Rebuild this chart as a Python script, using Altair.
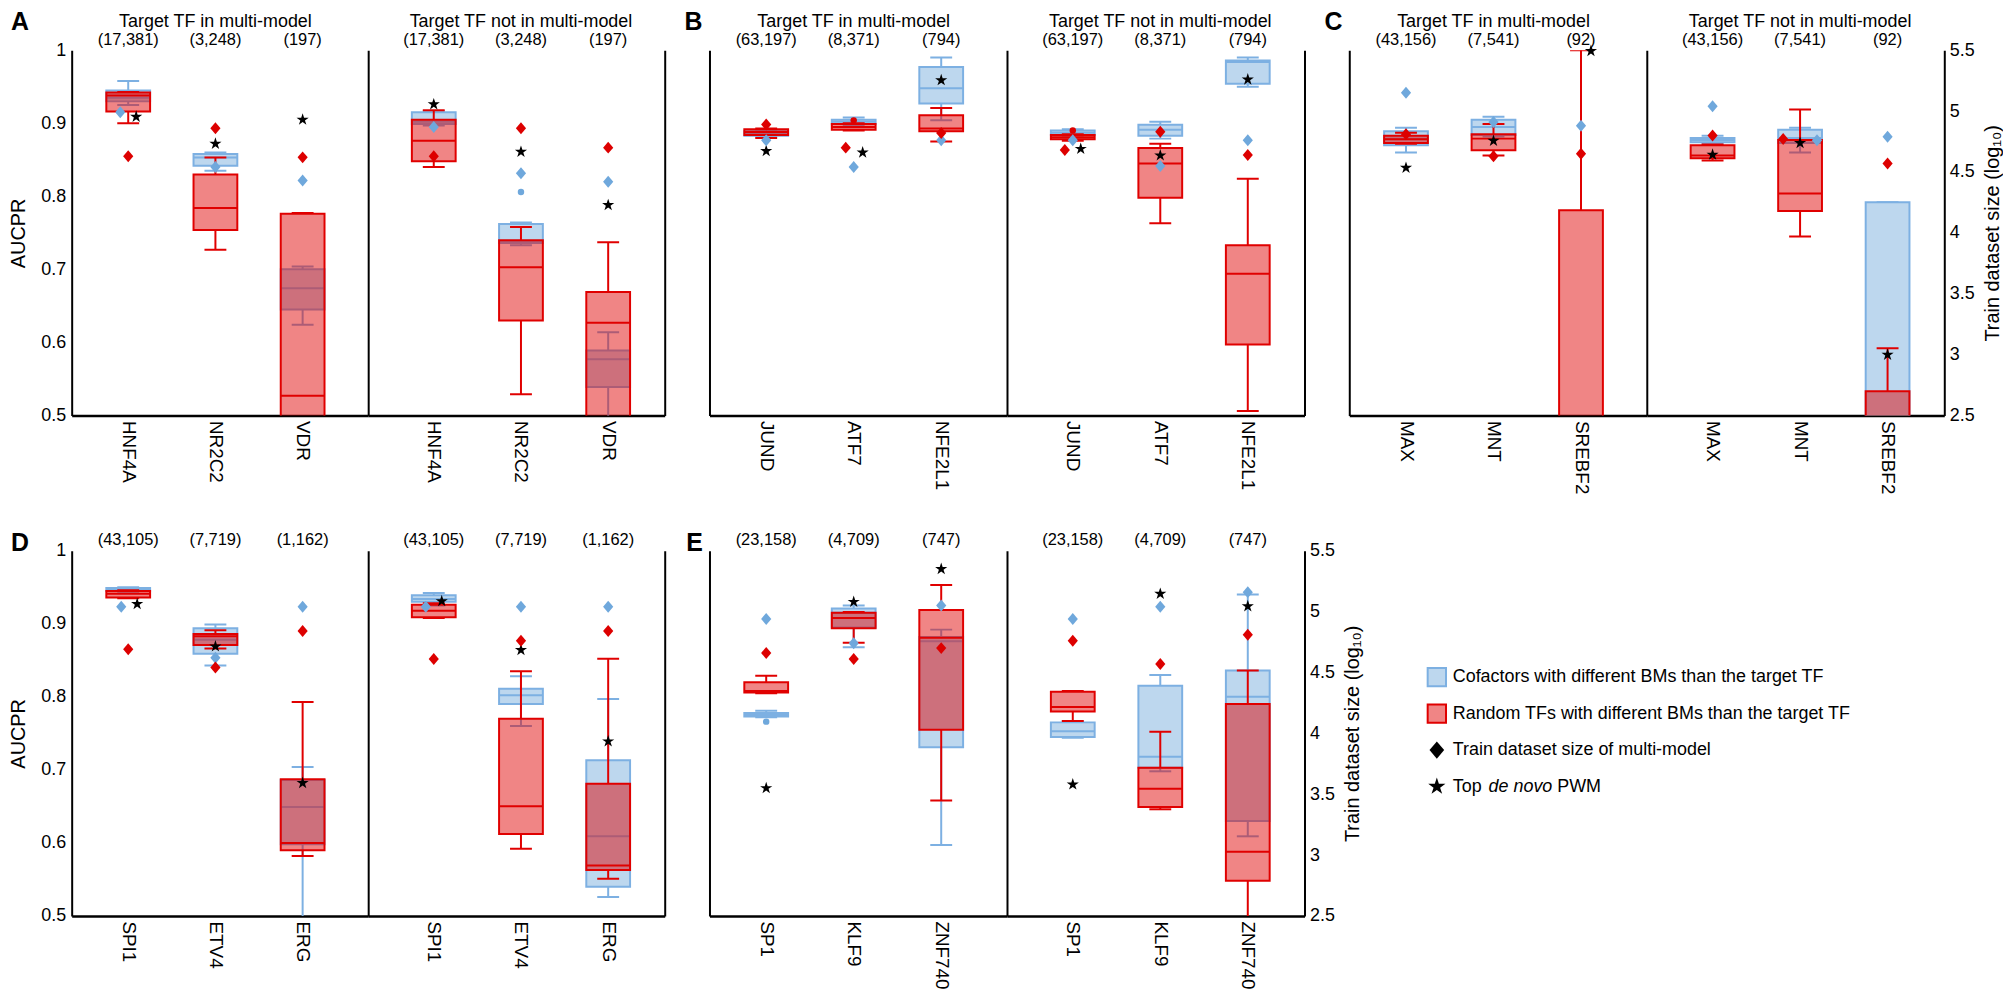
import altair as alt
import pandas as pd

FONT = "Liberation Sans"
BLUE_FILL = "#bdd7ee"
BLUE_LINE = "#7db0e2"
BLUE_MARK = "#6fa8dc"
RED = "#e00000"
RED_MARK = "#dd0000"

GROUP_TITLES = ["Target TF in multi-model", "Target TF not in multi-model"]

# ---------------- data (box stats: [whisker low, q1, median, q3, whisker high], AUCPR) ----------------
# Panel A
tf_A = ["HNF4A", "NR2C2", "VDR"]
n_A = ["(17,381)", "(3,248)", "(197)"]
cof_A_in = [[0.925, 0.930, 0.935, 0.945, 0.958], [0.835, 0.842, 0.853, 0.858, 0.860], [0.624, 0.645, 0.674, 0.700, 0.704]]
rnd_A_in = [[0.900, 0.916, 0.938, 0.942, 0.943], [0.727, 0.754, 0.784, 0.830, 0.853], [0.40, 0.45, 0.527, 0.776, 0.777]]
cof_A_out = [[0.897, 0.899, 0.902, 0.915, 0.917], [0.733, 0.736, 0.738, 0.762, 0.764], [0.45, 0.539, 0.577, 0.589, 0.614]]
rnd_A_out = [[0.840, 0.848, 0.876, 0.905, 0.918], [0.529, 0.630, 0.703, 0.740, 0.758], [0.45, 0.48, 0.627, 0.669, 0.737]]
size_cof_A_in = [4.99, 4.54, 4.43]
size_rnd_A_in = [4.63, 4.86, 4.62]
size_cof_A_out = [4.87, 4.49, 4.42]
size_rnd_A_out = [4.63, 4.86, 4.70]
pwm_A_in = [0.909, 0.872, 0.905]
pwm_A_out = [0.926, 0.861, 0.788]
outl_cof_A_out = [[], [0.806], []]

# Panel B
tf_B = ["JUND", "ATF7", "NFE2L1"]
n_B = ["(63,197)", "(8,371)", "(794)"]
cof_B_in = [[0.882, 0.883, 0.886, 0.889, 0.890], [0.897, 0.899, 0.902, 0.905, 0.908], [0.904, 0.927, 0.948, 0.977, 0.990]]
rnd_B_in = [[0.880, 0.884, 0.888, 0.892, 0.893], [0.890, 0.891, 0.895, 0.899, 0.900], [0.875, 0.889, 0.893, 0.911, 0.921]]
cof_B_out = [[0.883, 0.884, 0.887, 0.890, 0.892], [0.879, 0.883, 0.891, 0.898, 0.902], [0.950, 0.954, 0.984, 0.986, 0.990]]
rnd_B_out = [[0.876, 0.878, 0.881, 0.884, 0.885], [0.763, 0.798, 0.845, 0.866, 0.872], [0.506, 0.597, 0.694, 0.733, 0.824]]
size_cof_B_in = [4.76, 4.54, 4.76]
size_rnd_B_in = [4.89, 4.70, 4.82]
size_cof_B_out = [4.76, 4.55, 4.76]
size_rnd_B_out = [4.68, 4.83, 4.64]
pwm_B_in = [0.862, 0.860, 0.959]
pwm_B_out = [0.865, 0.856, 0.960]
outl_rnd_B_in = [[], [0.904], []]
outl_rnd_B_out = [[0.890], [], []]

# Panel C
tf_C = ["MAX", "MNT", "SREBF2"]
n_C = ["(43,156)", "(7,541)", "(92)"]
cof_C_in = [[0.860, 0.870, 0.879, 0.889, 0.894], [0.882, 0.884, 0.895, 0.905, 0.909], None]
rnd_C_in = [[0.872, 0.873, 0.878, 0.883, 0.887], [0.856, 0.863, 0.879, 0.885, 0.899], [0.40, 0.45, 0.48, 0.781, 1.0]]
cof_C_out = [[0.872, 0.874, 0.877, 0.880, 0.883], [0.860, 0.873, 0.880, 0.891, 0.894], [0.40, 0.45, 0.48, 0.792, 0.792]]
rnd_C_out = [[0.849, 0.852, 0.856, 0.870, 0.871], [0.745, 0.780, 0.804, 0.877, 0.919], [0.40, 0.45, 0.48, 0.533, 0.592]]
size_cof_C_in = [5.15, 4.91, 4.88]
size_rnd_C_in = [4.81, 4.63, 4.65]
size_cof_C_out = [5.04, 4.76, 4.79]
size_rnd_C_out = [4.80, 4.77, 4.57]
pwm_C_in = [0.839, 0.876, 0.999]
pwm_C_out = [0.857, 0.873, 0.583]

# Panel D
tf_D = ["SPI1", "ETV4", "ERG"]
n_D = ["(43,105)", "(7,719)", "(1,162)"]
cof_D_in = [[0.944, 0.945, 0.947, 0.949, 0.950], [0.843, 0.859, 0.878, 0.894, 0.899], [0.45, 0.598, 0.649, 0.686, 0.704]]
rnd_D_in = [[0.935, 0.936, 0.941, 0.945, 0.946], [0.866, 0.871, 0.883, 0.886, 0.891], [0.582, 0.590, 0.600, 0.687, 0.793]]
cof_D_out = [[0.925, 0.930, 0.934, 0.939, 0.942], [0.760, 0.790, 0.802, 0.811, 0.828], [0.526, 0.540, 0.609, 0.713, 0.797]]
rnd_D_out = [[0.908, 0.909, 0.918, 0.926, 0.928], [0.592, 0.612, 0.650, 0.770, 0.835], [0.551, 0.563, 0.569, 0.681, 0.852]]
size_cof_D_in = [5.04, 4.62, 5.04]
size_rnd_D_in = [4.69, 4.54, 4.84]
size_cof_D_out = [5.04, 5.04, 5.04]
size_rnd_D_out = [4.61, 4.76, 4.84]
pwm_D_in = [0.927, 0.869, 0.682]
pwm_D_out = [0.931, 0.864, 0.739]

# Panel E
tf_E = ["SP1", "KLF9", "ZNF740"]
n_E = ["(23,158)", "(4,709)", "(747)"]
cof_E_in = [[0.772, 0.773, 0.775, 0.778, 0.781], [0.868, 0.895, 0.915, 0.921, 0.925], [0.597, 0.731, 0.876, 0.882, 0.892]]
rnd_E_in = [[0.805, 0.806, 0.808, 0.820, 0.829], [0.874, 0.894, 0.908, 0.915, 0.916], [0.658, 0.755, 0.881, 0.919, 0.953]]
cof_E_out = [[0.744, 0.745, 0.753, 0.765, 0.767], [0.698, 0.703, 0.718, 0.815, 0.830], [0.609, 0.630, 0.800, 0.836, 0.940]]
rnd_E_out = [[0.767, 0.780, 0.786, 0.807, 0.808], [0.646, 0.649, 0.674, 0.703, 0.752], [0.45, 0.548, 0.588, 0.790, 0.836]]
size_cof_E_in = [4.94, 4.74, 5.05]
size_rnd_E_in = [4.66, 4.61, 4.70]
size_cof_E_out = [4.94, 5.04, 5.16]
size_rnd_E_out = [4.76, 4.57, 4.81]
pwm_E_in = [0.675, 0.930, 0.975]
pwm_E_out = [0.680, 0.941, 0.924]
outl_cof_E_in = [[0.766], [], []]

NO_OUT = [[], [], []]

LEGEND_TEXT = ["Cofactors with different BMs than the target TF",
               "Random TFs with different BMs than the target TF",
               "Train dataset size of multi-model"]

# ---------------- layout / style ----------------
H = 367
# small horizontal nudges (px) so overlapping markers sit side by side
DODGE = {
    ("A", 0, "HNF4A", "cof"): -8, ("A", 0, "HNF4A", "pwm"): 8,
    ("B", 0, "ATF7", "rnd"): -8, ("B", 0, "ATF7", "pwm"): 9,
    ("B", 1, "JUND", "rnd"): -8, ("B", 1, "JUND", "pwm"): 8,
    ("C", 0, "SREBF2", "pwm"): 10,
    ("C", 1, "MNT", "rnd"): -17, ("C", 1, "MNT", "cof"): 17,
    ("D", 0, "SPI1", "cof"): -7, ("D", 0, "SPI1", "pwm"): 9,
    ("D", 1, "SPI1", "cof"): -8, ("D", 1, "SPI1", "pwm"): 8,
}
STAR = ("M0,-1L0.225,-0.309L0.951,-0.309L0.363,0.118L0.588,0.809L0,0.382"
        "L-0.588,0.809L-0.363,0.118L-0.951,-0.309L-0.225,-0.309Z")
DIAMOND = "M0,-1L0.85,0L0,1L-0.85,0Z"
OFFSET_SCALE = alt.Scale(domain=[-20, 20], range=[-20, 20])


def stats_df(tfs, stats):
    rows = []
    for tf, s in zip(tfs, stats):
        if s is None:
            continue
        rows.append(dict(tf=tf, low=s[0], q1=s[1], med=s[2], q3=s[3], high=s[4]))
    return pd.DataFrame(rows)


def sub_chart(letter, gi, tfs, counts, grp, width, top_row, left_labels, right_labels, letter_x):
    cof, rnd, scof, srnd, pwm, ocof, ornd = grp
    align = 0.463 if gi == 0 else 0.537
    xscale = alt.Scale(type="point", domain=tfs, padding=0.7, align=align)
    xaxis = alt.Axis(title=None, labelAngle=90, labelFontSize=19, labelFont=FONT, labelColor="black",
                     ticks=False, domain=True, domainColor="black", domainWidth=2.5, labelPadding=5,
                     grid=False)
    X = alt.X("tf:N", scale=xscale, axis=xaxis)
    yscale = alt.Scale(domain=[0.5, 1.0], nice=False, zero=False)
    if gi == 0 and left_labels:
        yaxis = alt.Axis(title="AUCPR", values=[0.5, 0.6, 0.7, 0.8, 0.9, 1.0], format="~g",
                         labelFontSize=18, titleFontSize=20, ticks=False, domainColor="black",
                         domainWidth=2, labelPadding=6, titlePadding=12, grid=False,
                         titleFontWeight="normal")
    else:
        yaxis = alt.Axis(title=None, labels=False, ticks=False, domainColor="black", domainWidth=2,
                         grid=False)

    def Y(f):
        return alt.Y(f"{f}:Q", scale=yscale, axis=yaxis)

    layers = []
    for stats, fill, line, fop in ((cof, BLUE_FILL, BLUE_LINE, 1.0), (rnd, RED, RED, 0.48)):
        df = stats_df(tfs, stats)
        base = alt.Chart(df)
        layers += [
            base.mark_rule(color=line, strokeWidth=2, clip=True).encode(x=X, y=Y("q3"), y2="high:Q"),
            base.mark_rule(color=line, strokeWidth=2, clip=True).encode(x=X, y=Y("low"), y2="q1:Q"),
            base.mark_tick(color=line, size=22, thickness=2, clip=True, opacity=1).encode(x=X, y=Y("high")),
            base.mark_tick(color=line, size=22, thickness=2, clip=True, opacity=1).encode(x=X, y=Y("low")),
            base.mark_bar(size=44, fill=fill, fillOpacity=fop, stroke=line, strokeWidth=2,
                          clip=True).encode(x=X, y=Y("q1"), y2="q3:Q"),
            base.mark_tick(color=line, size=44, thickness=2, clip=True, opacity=1).encode(x=X, y=Y("med")),
        ]
    # outliers
    orows = []
    for tf, vals in zip(tfs, ocof):
        for v in vals:
            orows.append(dict(tf=tf, v=v, kind="cof"))
    for tf, vals in zip(tfs, ornd):
        for v in vals:
            orows.append(dict(tf=tf, v=v, kind="rnd"))
    if orows:
        layers.append(alt.Chart(pd.DataFrame(orows)).mark_circle(size=42, opacity=1).encode(
            x=X, y=Y("v"),
            color=alt.Color("kind:N", scale=alt.Scale(domain=["cof", "rnd"], range=[BLUE_MARK, RED_MARK]),
                            legend=None)))
    # stars (top de novo PWM)
    sdf = pd.DataFrame(dict(tf=tfs, pwm=pwm,
                            dx=[DODGE.get((letter, gi, t, "pwm"), 0) for t in tfs]))
    layers.append(alt.Chart(sdf).mark_point(shape=STAR, filled=True, color="black", size=165,
                                            opacity=1).encode(
        x=X, y=Y("pwm"), xOffset=alt.XOffset("dx:Q", scale=OFFSET_SCALE)))
    # counts
    cdf = pd.DataFrame(dict(tf=tfs, label=counts))
    layers.append(alt.Chart(cdf).mark_text(font=FONT, fontSize=16.5, baseline="alphabetic",
                                           color="black").encode(
        x=X, y=alt.value(-5 if top_row else -6), text="label:N"))
    if top_row:
        tdf = pd.DataFrame([dict(tf=tfs[1], label=GROUP_TITLES[gi])])
        layers.append(alt.Chart(tdf).mark_text(font=FONT, fontSize=18, baseline="alphabetic",
                                               color="black").encode(
            x=X, y=alt.value(-23), text="label:N"))
    if gi == 0:
        ldf = pd.DataFrame([dict(label=letter)])
        layers.append(alt.Chart(ldf).mark_text(font=FONT, fontSize=25, fontWeight="bold",
                                               baseline="alphabetic", align="center",
                                               color="black").encode(
            x=alt.value(letter_x), y=alt.value(-20 if top_row else 0), text="label:N"))

    inner = alt.layer(*layers)

    # diamonds: train dataset size on the log10 scale
    drows = []
    for t, v in zip(tfs, scof):
        drows.append(dict(tf=t, kind="cof", logsize=v, dx=DODGE.get((letter, gi, t, "cof"), 0)))
    for t, v in zip(tfs, srnd):
        drows.append(dict(tf=t, kind="rnd", logsize=v, dx=DODGE.get((letter, gi, t, "rnd"), 0)))
    sscale = alt.Scale(domain=[2.5, 5.5], nice=False, zero=False)
    if gi == 1:
        if right_labels:
            saxis = alt.Axis(orient="right", title="Train dataset size (log\u2081\u2080)",
                             values=[2.5, 3, 3.5, 4, 4.5, 5, 5.5], format="~g", labelFontSize=18,
                             titleFontSize=20, ticks=False, domainColor="black", domainWidth=2,
                             labelPadding=5, titlePadding=8, grid=False, titleAngle=270,
                             titleBaseline="top", titleFontWeight="normal")
        else:
            saxis = alt.Axis(orient="right", title=None, labels=False, ticks=False,
                             domainColor="black", domainWidth=2, grid=False)
    else:
        saxis = None
    dia = alt.Chart(pd.DataFrame(drows)).mark_point(shape=DIAMOND, filled=True, size=145,
                                                    opacity=1).encode(
        x=X,
        y=alt.Y("logsize:Q", scale=sscale, axis=saxis),
        xOffset=alt.XOffset("dx:Q", scale=OFFSET_SCALE),
        color=alt.Color("kind:N", scale=alt.Scale(domain=["cof", "rnd"], range=[BLUE_MARK, RED_MARK]),
                        legend=None),
    )
    return alt.layer(inner, dia).resolve_scale(y="independent").properties(width=width, height=H)


def panel(letter, tfs, counts, g_in, g_out, width, top_row, left_labels, right_labels, letter_x):
    a = sub_chart(letter, 0, tfs, counts, g_in, width, top_row, left_labels, right_labels, letter_x)
    b = sub_chart(letter, 1, tfs, counts, g_out, width, top_row, left_labels, right_labels, letter_x)
    return [a, b]


def spacer(w):
    return alt.Chart(pd.DataFrame({"s": [0]})).mark_point(opacity=0, size=0).encode(
        x=alt.value(0), y=alt.value(0)).properties(width=w, height=H)


pA = panel("A", tf_A, n_A,
           (cof_A_in, rnd_A_in, size_cof_A_in, size_rnd_A_in, pwm_A_in, NO_OUT, NO_OUT),
           (cof_A_out, rnd_A_out, size_cof_A_out, size_rnd_A_out, pwm_A_out, outl_cof_A_out, NO_OUT),
           298, True, True, False, -52)
pB = panel("B", tf_B, n_B,
           (cof_B_in, rnd_B_in, size_cof_B_in, size_rnd_B_in, pwm_B_in, NO_OUT, outl_rnd_B_in),
           (cof_B_out, rnd_B_out, size_cof_B_out, size_rnd_B_out, pwm_B_out, NO_OUT, outl_rnd_B_out),
           299, True, False, False, -16)
pC = panel("C", tf_C, n_C,
           (cof_C_in, rnd_C_in, size_cof_C_in, size_rnd_C_in, pwm_C_in, NO_OUT, NO_OUT),
           (cof_C_out, rnd_C_out, size_cof_C_out, size_rnd_C_out, pwm_C_out, NO_OUT, NO_OUT),
           299, True, False, True, -16)
pD = panel("D", tf_D, n_D,
           (cof_D_in, rnd_D_in, size_cof_D_in, size_rnd_D_in, pwm_D_in, NO_OUT, NO_OUT),
           (cof_D_out, rnd_D_out, size_cof_D_out, size_rnd_D_out, pwm_D_out, NO_OUT, NO_OUT),
           298, False, True, False, -52)
pE = panel("E", tf_E, n_E,
           (cof_E_in, rnd_E_in, size_cof_E_in, size_rnd_E_in, pwm_E_in, outl_cof_E_in, NO_OUT),
           (cof_E_out, rnd_E_out, size_cof_E_out, size_rnd_E_out, pwm_E_out, NO_OUT, NO_OUT),
           299, False, False, True, -15)

# ---------------- legend ----------------
leg_keys = ["cof", "rnd", "dia", "pwm"]
LY = alt.Y("key:N", scale=alt.Scale(type="point", domain=leg_keys, range=[127, 237], padding=0), axis=None)
ldf = pd.DataFrame(dict(key=leg_keys[:3], label=LEGEND_TEXT))
lbase = alt.Chart(ldf)
leg_layers = [
    alt.Chart(pd.DataFrame(dict(key=["cof"]))).mark_point(shape="square", filled=True, size=340,
                                                         fill=BLUE_FILL, stroke=BLUE_LINE, strokeWidth=2,
                                                         opacity=1).encode(x=alt.value(10), y=LY),
    alt.Chart(pd.DataFrame(dict(key=["rnd"]))).mark_point(shape="square", filled=True, size=340,
                                                         fill=RED, fillOpacity=0.48, stroke=RED,
                                                         strokeWidth=2, strokeOpacity=1).encode(
        x=alt.value(10), y=LY),
    alt.Chart(pd.DataFrame(dict(key=["dia"]))).mark_point(shape=DIAMOND, filled=True, size=300,
                                                         color="black", opacity=1).encode(
        x=alt.value(10), y=LY),
    alt.Chart(pd.DataFrame(dict(key=["pwm"]))).mark_point(shape=STAR, filled=True, size=330,
                                                         color="black", opacity=1).encode(
        x=alt.value(10), y=LY),
    lbase.mark_text(font=FONT, fontSize=18, align="left", baseline="middle", color="black").encode(
        x=alt.value(26), y=LY, text="label:N"),
    alt.Chart(pd.DataFrame(dict(key=["pwm"], label=["Top"]))).mark_text(
        font=FONT, fontSize=18, align="left", baseline="middle", color="black").encode(
        x=alt.value(26), y=LY, text="label:N"),
    alt.Chart(pd.DataFrame(dict(key=["pwm"], label=["de novo"]))).mark_text(
        font=FONT, fontSize=18, fontStyle="italic", align="left", baseline="middle", color="black").encode(
        x=alt.value(62), y=LY, text="label:N"),
    alt.Chart(pd.DataFrame(dict(key=["pwm"], label=["PWM"]))).mark_text(
        font=FONT, fontSize=18, align="left", baseline="middle", color="black").encode(
        x=alt.value(131), y=LY, text="label:N"),
]
legend = alt.layer(*leg_layers).properties(width=420, height=H)

top = alt.hconcat(*pA, spacer(45), *pB, spacer(45), *pC, spacing=0, bounds="flush").resolve_scale(
    x="independent", y="independent")
bottom = alt.hconcat(*pD, spacer(45), *pE, spacer(123), legend, spacing=0, bounds="flush").resolve_scale(
    x="independent", y="independent")
chart = alt.vconcat(top, bottom, spacing=37).resolve_scale(
    x="independent", y="independent").properties(
    padding={"left": 0, "top": 0, "right": 0, "bottom": 0}
).configure_view(stroke=None).configure_axis(labelFont=FONT, titleFont=FONT, labelColor="black",
                                             titleColor="black")

chart.save("out.html", embed_options={"renderer": "svg", "actions": False})
